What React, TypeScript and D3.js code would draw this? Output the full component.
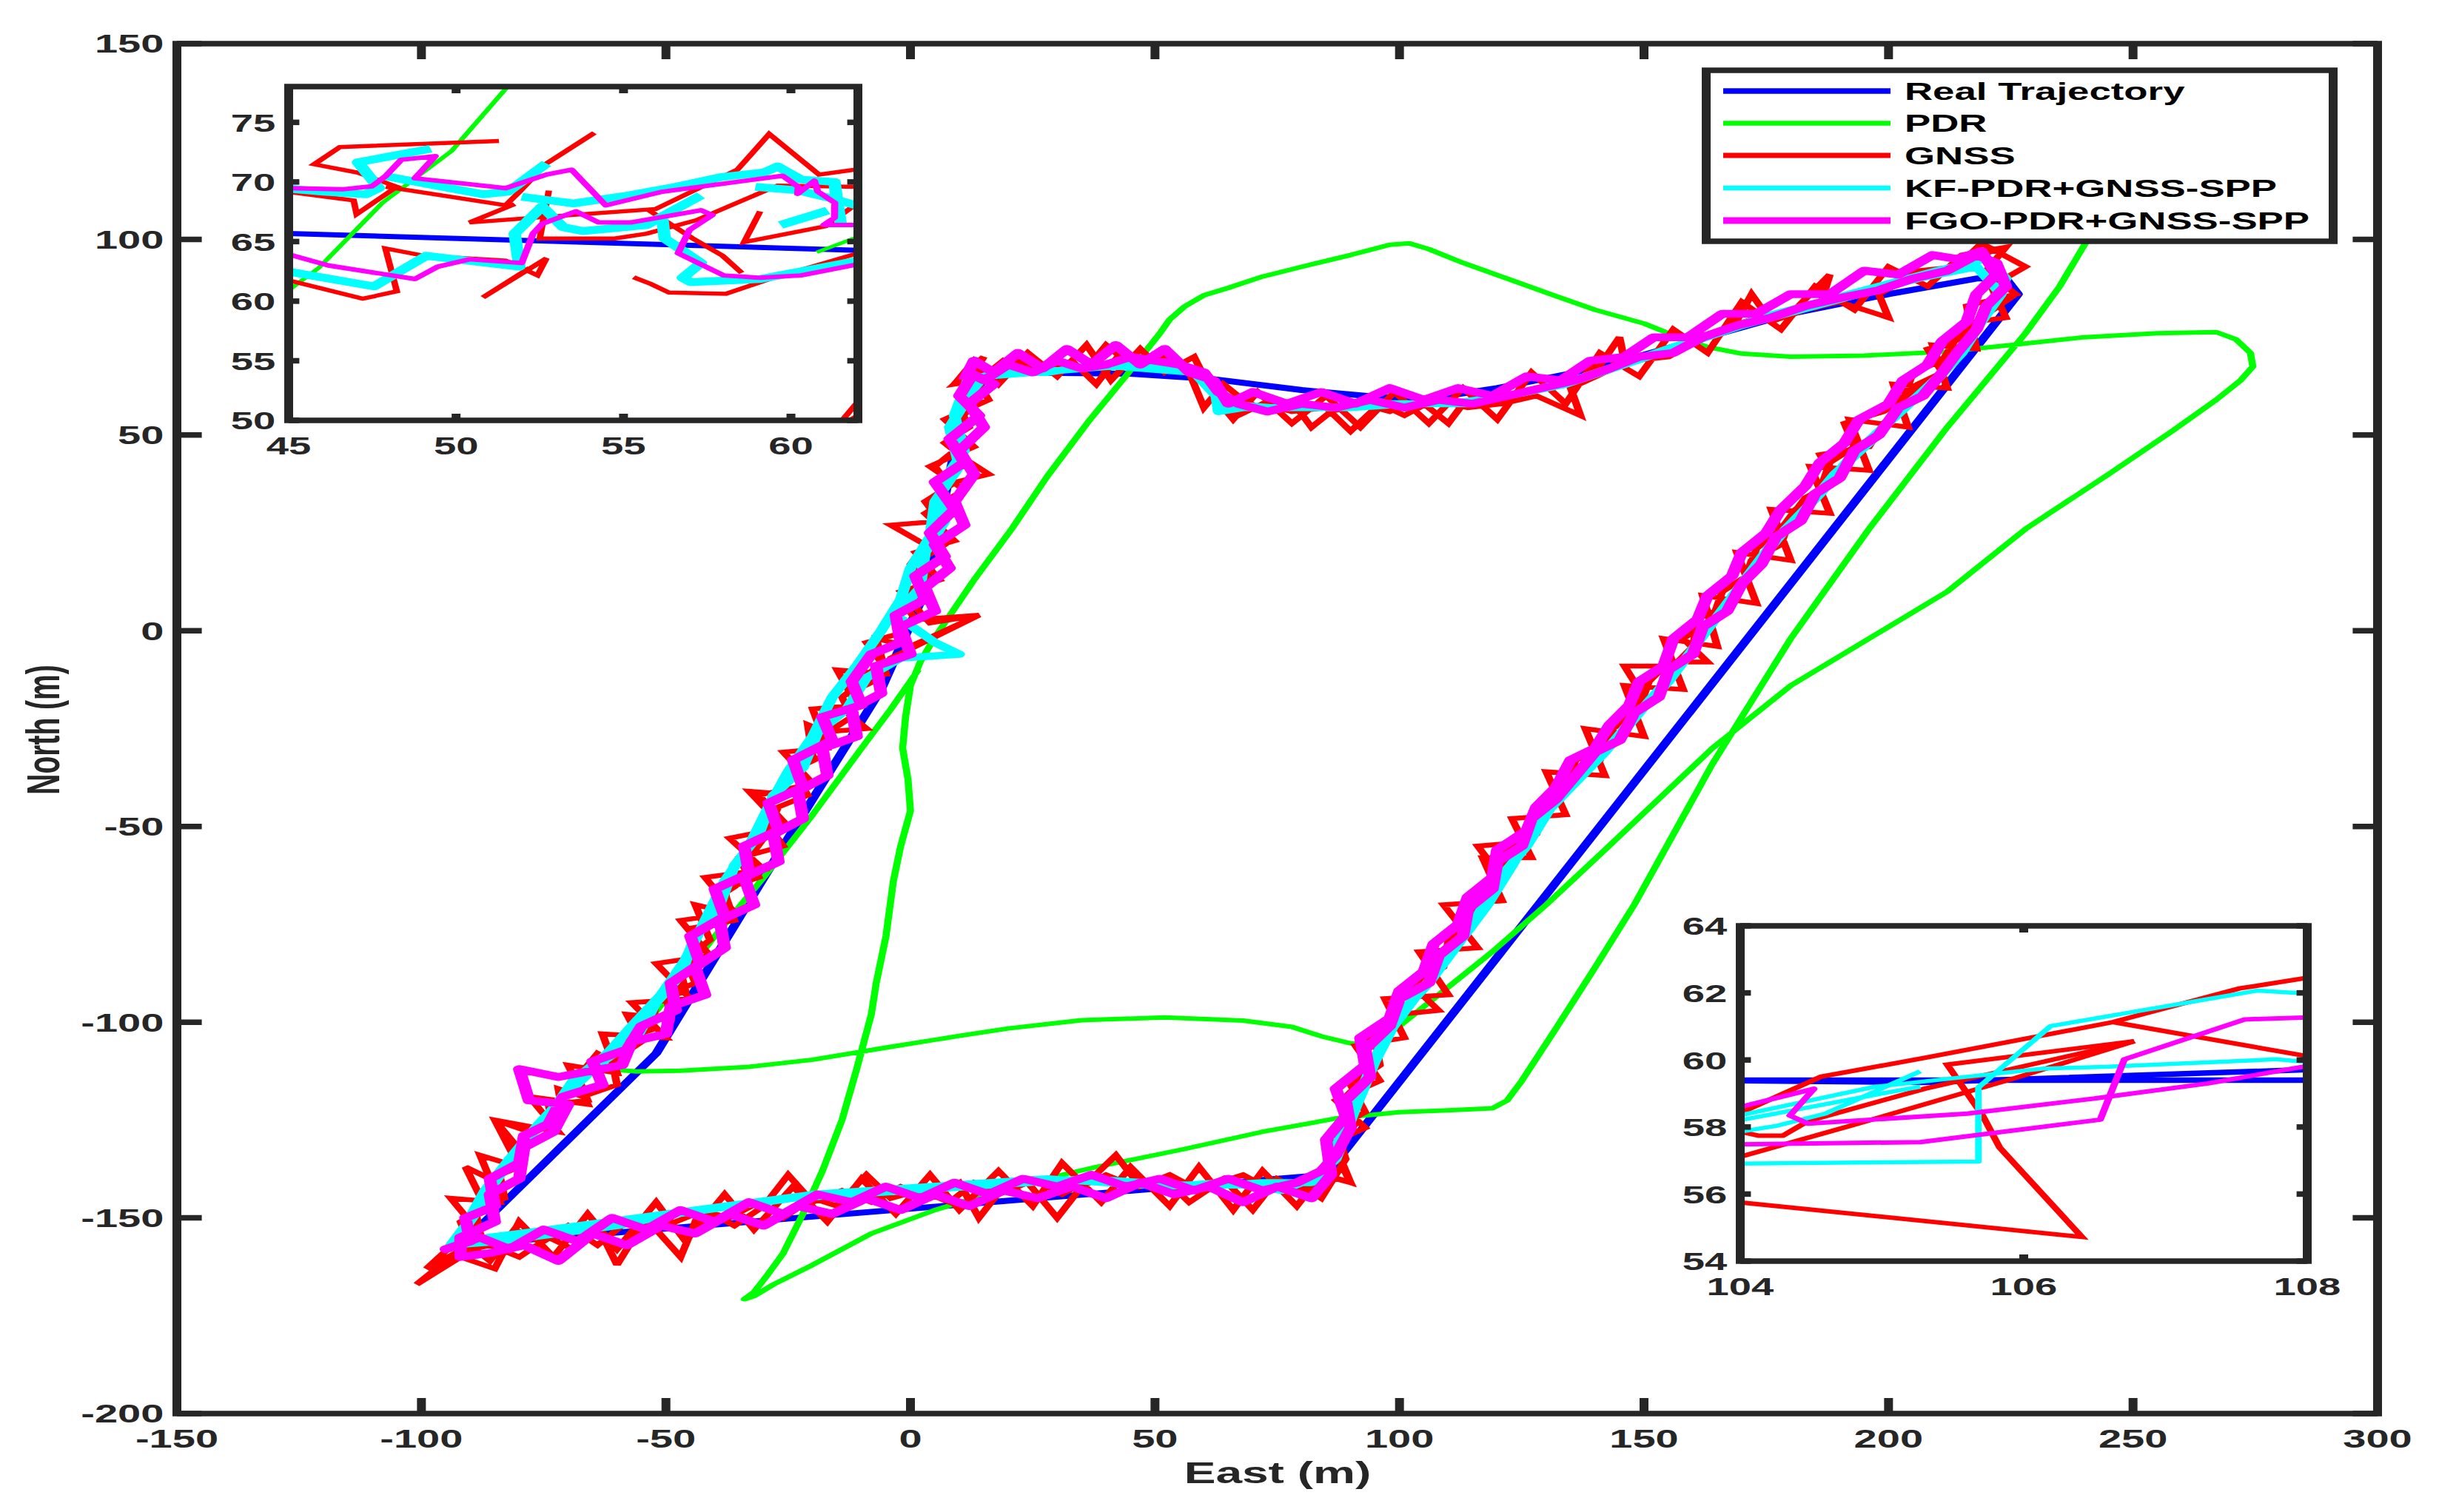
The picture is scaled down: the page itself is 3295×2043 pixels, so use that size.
import React from 'react';
import * as d3 from 'd3';

type Pt = [number, number];

// the figure was saved stretched sideways, so everything is drawn in a narrower frame and scaled up in x
const SX = 1.6;
const W = 3295;
const H = 2043;

// ---- main axes ----
const xTicksMain = [-150, -100, -50, 0, 50, 100, 150, 200, 250, 300];
const yTicksMain = [-200, -150, -100, -50, 0, 50, 100, 150];

const realTrajectory: Pt[] = [
  [20, 66], [45, 65.67], [62, 64.27], [80, 61.5], [95, 59.8], [104, 59.38], [105.3, 59.33], [108, 59.71],
  [120, 62], [140, 67], [160, 74], [180, 81], [200, 86], [218, 90], [224, 90], [226.5, 86],
  [85, -139], [-92, -157], [-52, -108], [-27, -57], [-6, -15], [3, 10], [8, 40], [12, 62], [20, 66],
];

const pdrTrack: Pt[] = [
  [1.6, -10], [-4, -20], [-10, -30], [-20, -47], [-30, -63], [-40, -78], [-48, -91], [-55, -102], [-60, -109],
  [-62, -112], [-56, -112.6], [-47, -112.4], [-33, -111.4], [-20, -109.6], [-5, -106.5], [10, -103.5], [20, -101.6],
  [35, -99.5], [52, -98.8], [68, -99.6], [78, -101.2], [84, -103.6], [90, -105.4], [95, -105.6], [100, -101],
  [110, -91], [119, -82], [130, -70], [142, -56], [153, -43], [164, -30], [180, -14], [196, -2], [212, 10],
  [228, 26], [245, 40], [258, 51], [267, 59], [272, 64], [274.5, 67.5], [274, 71], [271, 74.5], [267, 76.3],
  [255, 76], [240, 75], [225, 73], [211.5, 71.3], [195, 70.3], [180, 70], [170, 70.8], [163, 72.5], [156, 75.5],
  [150, 78.5], [140, 82], [132, 85.5], [122, 90], [113, 94], [106, 97.5], [102, 99], [98, 98.6], [90, 96],
  [80, 93], [72, 90.5], [65, 87.6], [60, 85.7], [56, 82.8], [53, 79.5], [51, 76], [44, 65], [36.6, 53.8],
  [28, 39.5], [20.7, 26], [13, 13], [7, 2], [4.8, -2], [2, -8], [0, -14], [-1, -22], [-1.6, -30], [-0.5, -38],
  [0, -46], [-2, -55], [-3.5, -64], [-5, -78], [-7, -90], [-8, -98], [-11, -112], [-14, -125], [-18, -138],
  [-22, -149], [-26, -159], [-29.5, -165], [-32, -169], [-34, -170.8], [-32, -170], [-28, -167], [-20, -162],
  [-8, -154], [5, -148], [20.7, -142], [38, -137], [55.7, -132.5], [72, -128], [87.5, -124.5], [100, -123],
  [110, -122.5], [119, -122], [122, -120], [125, -115], [132, -101.6], [140, -86], [148, -70], [156, -52],
  [164, -34], [172, -18], [180, -2], [188, 12], [196, 26], [204, 39], [212, 52], [220, 64], [228, 76],
  [235, 88], [241.5, 101.6], [246, 110],
];

const gnssLap1: Pt[] = [
  [12, 67], [16, 59], [7, 54], [13, 47], [4, 42], [11, 36], [3, 30], [9, 23], [1, 20], [6, 13], [-2, 10], [4, 2],
  [14, 4], [0, -4], [-7, -2], [-5, -11], [-15, -10], [-11, -19], [-20, -20], [-17, -30], [-26, -31], [-20, -39],
  [-31, -42], [-25, -50], [-37, -53], [-30, -61], [-42, -63], [-36, -72], [-47, -74], [-41, -83], [-52, -85],
  [-45, -94], [-57, -95], [-50, -104], [-63, -103], [-60, -113], [-70, -111], [-66, -121], [-78, -119],
  [-72, -128], [-85, -125], [-80, -137], [-88, -134], [-84, -146], [-94, -145], [-88, -154], [-101, -167],
  [-92, -160], [-85, -163], [-80, -151], [-73, -160], [-66, -149], [-60, -158], [-52, -146], [-46, -156],
  [-38, -144], [-32, -153], [-24, -142], [-17, -151], [-10, -140], [-3, -149], [4, -139], [10, -148], [18, -138],
  [25, -147], [31, -136], [39, -146], [45, -137], [53, -147], [59, -137], [66, -148], [72, -138], [79, -147],
  [84, -139], [90, -141], [86, -131], [93, -127], [87, -120], [96, -115], [91, -106], [101, -104], [97, -94],
  [110, -93], [104, -82], [116, -81], [109, -70], [121, -69], [117, -58], [127, -58], [123, -48], [134, -47],
  [130, -36], [142, -37], [138, -25], [150, -27], [146, -14], [158, -15], [154, -2], [165, -4], [162, 9],
  [173, 7], [169, 20], [180, 18], [176, 31], [188, 30], [184, 42], [196, 41], [192, 54], [204, 52], [201, 63],
  [212, 62], [209, 73], [218, 72], [216, 83], [226, 86], [220, 92], [224, 98], [215, 96], [208, 88], [200, 93],
  [193, 82], [185, 88], [178, 77], [170, 84], [163, 71], [156, 77], [149, 65], [141, 71], [134, 58], [127, 66],
  [120, 54], [113, 62], [106, 53], [99, 61], [92, 52], [85, 60], [78, 53], [71, 61], [66, 54], [62, 60],
  [58, 70], [52, 66], [47, 72], [41, 64], [36, 73], [30, 65], [24, 71], [18, 63], [13, 69], [9, 63],
];

const gnssLap2: Pt[] = [
  [12, 67], [14, 61], [10, 57], [12, 52], [7, 48], [11, 44], [16, 40], [6, 37], [9, 31], [5, 27], [7, 22], [2, 18],
  [4, 12], [0, 8], [3, 3], [14, 4], [1, -4], [-4, -7], [-6, -12], [-11, -15], [-13, -21], [-9, -25], [-19, -26],
  [-18, -32], [-23, -35], [-22, -42], [-33, -41], [-27, -49], [-30, -53], [-33, -58], [-31, -63], [-38, -66],
  [-37, -72], [-44, -70], [-41, -79], [-46, -84], [-44, -90], [-50, -93], [-49, -99], [-58, -98], [-55, -105],
  [-61, -110], [-60, -116], [-67, -119], [-72, -117], [-71, -124], [-78, -128], [-85, -125], [-79, -134],
  [-84, -139], [-83, -145], [-89, -148], [-88, -154], [-101, -167], [-93, -159], [-86, -157], [-80, -160],
  [-74, -155], [-69, -158], [-64, -152], [-60, -162], [-55, -152], [-48, -151], [-42, -148], [-36, -152],
  [-30, -147], [-25, -139], [-20, -146], [-14, -143], [-8, -146], [-2, -142], [4, -145], [10, -141], [14, -150],
  [19, -142], [25, -140], [31, -144], [37, -140], [42, -134], [47, -142], [53, -139], [59, -143], [64, -140],
  [70, -148], [75, -140], [80, -143], [85, -139], [90, -141], [87, -132], [91, -126], [89, -119], [94, -113],
  [92, -106], [99, -101], [100, -94], [104, -91], [107, -84], [111, -79], [113, -72], [118, -67], [119, -60],
  [116, -55], [126, -54], [127, -47], [131, -42], [135, -37], [141, -33], [142, -26], [148, -22], [149, -15],
  [146, -9], [156, -9], [160, -4], [161, 3], [166, 6], [170, 11], [172, 18], [178, 22], [180, 29], [183, 34],
  [189, 38], [186, 45], [196, 47], [199, 53], [203, 57], [206, 63], [211, 66], [208, 72], [216, 75], [219, 80],
  [226, 86], [220, 92], [224, 98], [216, 95], [210, 91], [204, 90], [198, 86], [200, 80], [190, 84], [183, 82],
  [176, 79], [172, 86], [168, 77], [161, 74], [155, 70], [148, 69], [142, 66], [135, 62], [137, 55], [128, 60],
  [121, 58], [114, 57], [107, 59], [101, 55], [96, 58], [90, 51], [85, 57], [78, 56], [72, 58], [67, 55],
  [62, 60], [60, 66], [54, 67], [49, 70], [44, 69], [40, 73], [36, 67], [30, 68], [24, 66], [19, 69], [14, 64],
  [9, 63],
];

const gnssLap3: Pt[] = [
  [15, 70], [11, 62], [13, 57], [8, 53], [10, 47], [5, 42], [8, 37], [3, 33], [6, 28], [-4, 27], [3, 22], [0, 17],
  [3, 12], [-2, 8], [1, 3], [-3, -1], [-9, -3], [-6, -8], [-10, -13], [-14, -17], [-12, -22], [-17, -26],
  [-21, -24], [-20, -32], [-24, -36], [-21, -42], [-27, -45], [-29, -50], [-26, -55], [-35, -58], [-33, -63],
  [-38, -67], [-36, -74], [-45, -76], [-43, -82], [-47, -87], [-46, -92], [-52, -95], [-53, -102], [-58, -104],
  [-61, -110], [-64, -108], [-68, -114], [-66, -120], [-74, -121], [-73, -128], [-79, -131], [-80, -137],
  [-86, -140], [-91, -137], [-87, -147], [-92, -151], [-90, -157], [-99, -163], [-92, -155], [-86, -161],
  [-81, -153], [-75, -156], [-70, -152], [-64, -157], [-58, -151], [-52, -153], [-47, -160], [-43, -148],
  [-37, -150], [-31, -146], [-26, -150], [-20, -145], [-15, -147], [-9, -139], [-4, -145], [2, -143], [8, -146],
  [13, -141], [18, -144], [24, -141], [30, -150], [35, -142], [40, -139], [46, -142], [52, -140], [57, -146],
  [63, -141], [68, -139], [74, -143], [79, -141], [84, -145], [89, -135], [87, -127], [93, -123], [90, -116],
  [96, -111], [95, -104], [100, -98], [108, -97], [103, -91], [109, -86], [110, -79], [115, -75], [116, -68],
  [121, -63], [122, -56], [128, -52], [130, -45], [134, -41], [136, -33], [142, -31], [144, -24], [149, -20],
  [151, -13], [155, -8], [163, -8], [158, -2], [164, 3], [166, 10], [171, 14], [173, 21], [178, 26], [181, 31],
  [186, 36], [188, 43], [193, 47], [191, 53], [199, 56], [203, 59], [205, 66], [211, 69], [214, 75], [218, 79],
  [224, 80], [221, 88], [228, 93], [219, 99], [214, 93], [206, 92], [199, 88], [192, 86], [186, 83], [188, 91],
  [180, 81], [173, 80], [166, 77], [159, 74], [152, 71], [146, 69], [145, 75], [140, 66], [133, 63], [126, 61],
  [120, 58], [113, 58], [110, 53], [104, 59], [98, 56], [92, 58], [86, 56], [82, 52], [79, 57], [73, 56],
  [68, 59], [64, 63], [60, 57], [57, 66], [52, 70], [47, 67], [43, 71], [38, 63], [33, 69], [28, 66], [22, 69],
  [17, 65], [12, 68],
];

const kfLap1: Pt[] = [
  [12, 65], [9, 55], [11, 46], [6, 37], [7, 28], [3, 20], [2, 11], [-3, 4], [5, -3], [10, -6], [-2, -7],
  [-9, -12], [-13, -20], [-19, -26], [-22, -35], [-28, -42], [-31, -52], [-36, -60], [-39, -70], [-44, -78],
  [-47, -88], [-52, -95], [-56, -104], [-64, -111], [-70, -118], [-76, -126], [-82, -135], [-87, -143],
  [-91, -152], [-94, -157], [-84, -156], [-72, -154], [-60, -152], [-48, -149], [-36, -147], [-24, -145],
  [-12, -144], [0, -143], [12, -142], [24, -141], [36, -140], [48, -141], [60, -142], [72, -141], [82, -141],
  [87, -135], [91, -122], [95, -110], [100, -98], [106, -90], [112, -80], [118, -70], [123, -60], [128, -49],
  [135, -40], [142, -31], [148, -22], [155, -13], [161, -3], [167, 7], [173, 17], [179, 26], [186, 35],
  [192, 44], [199, 52], [206, 60], [212, 67], [217, 75], [221, 83], [224, 90], [220, 95], [210, 92], [198, 88],
  [186, 84], [174, 80], [162, 75], [150, 70], [138, 65], [126, 61], [114, 58], [102, 58], [90, 57], [78, 57],
  [68, 57], [63, 56], [62, 64], [55, 67], [45, 68], [35, 67], [25, 66], [15, 65],
];

const kfLap2: Pt[] = [
  [13, 62], [8, 52], [10, 42], [5, 33], [4, 24], [0, 16], [-2, 8], [-6, 0], [-11, -9], [-16, -17], [-20, -27],
  [-25, -36], [-29, -45], [-33, -55], [-38, -64], [-42, -74], [-46, -84], [-51, -93], [-57, -101], [-62, -108],
  [-69, -115], [-74, -124], [-80, -132], [-85, -141], [-89, -149], [-93, -156], [-80, -154], [-68, -152],
  [-56, -150], [-44, -148], [-32, -146], [-20, -144], [-8, -143], [4, -142], [16, -141], [28, -140], [40, -141],
  [52, -142], [64, -141], [76, -143], [84, -139], [89, -127], [93, -115], [97, -104], [103, -94], [109, -85],
  [115, -75], [120, -64], [126, -55], [131, -45], [138, -36], [145, -27], [151, -18], [158, -8], [164, 2],
  [170, 12], [176, 22], [183, 31], [189, 40], [196, 48], [202, 56], [209, 63], [215, 71], [219, 79], [223, 86],
  [218, 93], [206, 90], [194, 86], [182, 82], [170, 78], [158, 73], [146, 68], [134, 63], [122, 60], [110, 58],
  [98, 58], [86, 57], [74, 57], [64, 58], [58, 66], [48, 67], [38, 68], [28, 66], [18, 66], [12, 64],
];

const fgoLap1: Pt[] = [
  [13, 66], [10, 60], [14, 55], [8, 49], [11, 43], [5, 38], [9, 31], [4, 25], [7, 19], [1, 14], [3, 8], [-3, 4],
  [-2, -3], [-8, -6], [-12, -13], [-10, -19], [-18, -22], [-16, -28], [-24, -33], [-22, -40], [-29, -44],
  [-27, -51], [-34, -55], [-33, -62], [-40, -66], [-38, -73], [-45, -78], [-43, -85], [-49, -90], [-48, -97],
  [-55, -101], [-58, -107], [-65, -110], [-63, -116], [-71, -119], [-74, -126], [-79, -129], [-80, -136],
  [-86, -140], [-85, -147], [-91, -150], [-90, -156], [-95, -158], [-88, -155], [-82, -158], [-75, -153],
  [-68, -156], [-61, -150], [-54, -153], [-47, -148], [-40, -151], [-33, -146], [-26, -149], [-19, -144],
  [-12, -146], [-5, -142], [2, -145], [9, -141], [16, -144], [23, -140], [30, -142], [37, -139], [44, -142],
  [51, -140], [58, -143], [65, -140], [72, -143], [79, -141], [84, -138], [87, -134], [90, -127], [89, -120],
  [94, -114], [93, -107], [98, -101], [100, -94], [106, -90], [108, -83], [113, -78], [114, -71], [119, -66],
  [120, -59], [125, -55], [127, -48], [132, -43], [136, -37], [140, -31], [145, -28], [148, -21], [153, -17],
  [155, -10], [160, -6], [162, 1], [167, 5], [170, 12], [174, 17], [177, 24], [182, 28], [185, 35], [190, 39],
  [193, 46], [198, 50], [202, 57], [207, 60], [211, 66], [214, 71], [218, 77], [220, 83], [224, 88], [222, 94],
  [218, 96], [212, 92], [205, 90], [198, 87], [190, 85], [183, 83], [176, 80], [169, 78], [162, 75], [156, 71],
  [149, 70], [143, 67], [136, 64], [129, 62], [122, 60], [115, 58], [108, 59], [101, 57], [94, 59], [87, 57],
  [80, 58], [73, 56], [67, 58], [63, 61], [60, 66], [55, 68], [50, 69], [45, 70], [40, 68], [35, 67], [30, 69],
  [25, 66], [20, 68], [15, 64], [12, 66],
];

const fgoLap2: Pt[] = [
  [17, 63], [12, 58], [15, 52], [10, 46], [13, 40], [9, 33], [11, 27], [5, 22], [8, 16], [3, 11], [5, 5], [-2, 1],
  [0, -6], [-7, -9], [-6, -16], [-12, -20], [-11, -27], [-18, -30], [-17, -37], [-23, -41], [-22, -48],
  [-28, -52], [-27, -59], [-34, -63], [-32, -70], [-39, -74], [-38, -81], [-44, -86], [-42, -93], [-49, -96],
  [-50, -103], [-57, -105], [-59, -111], [-72, -114], [-80, -112], [-78, -120], [-70, -121], [-73, -128],
  [-79, -132], [-80, -140], [-86, -144], [-85, -151], [-92, -155], [-92, -160], [-86, -159], [-79, -157],
  [-72, -161], [-65, -154], [-58, -157], [-51, -152], [-44, -154], [-37, -149], [-30, -152], [-23, -147],
  [-16, -149], [-9, -145], [-2, -148], [5, -144], [12, -147], [19, -143], [26, -145], [33, -142], [40, -145],
  [47, -141], [54, -144], [61, -142], [68, -146], [75, -142], [82, -145], [86, -139], [85, -130], [89, -124],
  [87, -117], [93, -111], [92, -104], [98, -99], [100, -92], [105, -87], [107, -80], [112, -75], [114, -68],
  [119, -63], [120, -56], [126, -51], [128, -45], [132, -40], [135, -33], [140, -30], [143, -24], [147, -19],
  [149, -13], [154, -9], [156, -2], [161, 3], [163, 9], [168, 14], [170, 20], [175, 25], [178, 31], [183, 37],
  [186, 43], [191, 48], [194, 54], [200, 58], [203, 64], [208, 68], [211, 74], [216, 79], [218, 86], [222, 91],
  [219, 97], [214, 95], [209, 96], [202, 91], [195, 92], [188, 86], [180, 86], [173, 81], [166, 81], [159, 75],
  [152, 75], [146, 70], [139, 69], [133, 64], [126, 65], [119, 60], [112, 62], [105, 59], [98, 62], [91, 58],
  [84, 61], [77, 58], [70, 61], [65, 58], [62, 64], [57, 66], [52, 72], [47, 68], [42, 73], [37, 68], [32, 72],
  [27, 67], [22, 71], [17, 66], [13, 69], [11, 64],
];

// ---- inset 1 (top left) ----
const xTicksIn1 = [45, 50, 55, 60];
const yTicksIn1 = [50, 55, 60, 65, 70, 75];
const in1Real: Pt[][] = [[[45, 65.67], [62, 64.27]]];
const in1Pdr: Pt[][] = [
  [[44.8, 60.5], [45.9, 62.8], [47.8, 68.25], [49.86, 72.58], [51.6, 78.2]],
  [[60.77, 64.1], [62.2, 65.6]],
];
const in1Gnss: Pt[][] = [
  [[45, 69.15], [46.94, 68.45], [47.03, 67.3], [48.23, 69.6], [47.07, 70.78], [45.76, 71.48], [46.53, 72.93], [51.28, 73.44]],
  [[45, 61.75], [47.21, 60.21], [48.23, 60.82], [47.89, 64.43], [49.04, 63.81], [51.48, 63.4], [52.43, 62.16], [52.7, 63.6], [50.8, 60.31], [52.2, 62.8]],
  [[47.9, 69.6], [51.48, 68.04], [51.9, 69.2], [52.7, 71.55], [54.13, 74.12]],
  [[51.75, 68.14], [50.4, 66.6], [52.84, 67.1], [55.96, 67.73], [58.4, 71.03], [59.35, 74.02], [60.84, 70.62], [62, 71.07]],
  [[52.77, 69.28], [52.5, 65.26], [54.74, 65.26], [55.7, 65.67], [57.18, 66.8], [59.6, 69.7], [62, 69.59]],
  [[55.7, 67.73], [57.07, 65.26], [57.96, 63.81], [58.53, 62.37]],
  [[55.3, 62], [55.82, 61.44], [56.36, 60.72], [58.06, 60.62], [59.48, 61.96], [62, 64.02]],
  [[59.08, 67.53], [58.6, 64.95], [61.04, 66.29], [62, 68.25]],
  [[61.5, 49.9], [62.1, 51.9]],
  [[61.7, 49.9], [62.1, 50.6]],
];
const in1Kf: Pt[][] = [
  [[45, 69.44], [46.06, 69.18], [47.3, 68.97], [47.69, 69.49], [47.07, 71.65], [49.24, 72.78]],
  [[47.82, 70.52], [50.8, 68.97], [51.55, 69.18], [52.7, 71.55]],
  [[51.96, 68.76], [53.5, 68.2], [55, 68.8], [56.4, 69.5], [57.9, 70.4], [59.2, 70.8], [59.6, 71.3], [60.3, 70.2], [61.3, 70.0], [61.4, 68.0], [61.5, 66.3]],
  [[45, 62.47], [47.55, 61.24], [49.11, 63.81], [51.89, 62.89], [51.75, 65.67], [52.57, 67.94], [53.2, 66.2], [53.79, 65.88], [55.69, 66.39], [57.31, 68.87]],
  [[56.16, 66.9], [56.23, 65.26], [57.31, 63.2], [56.77, 61.96], [57, 61.6], [59.08, 61.86], [62, 63.4]],
  [[58.94, 69.59], [60.2, 69.3], [61.1, 68.7], [62, 68.0]],
  [[59.69, 66.39], [61.1, 67.6]],
];
const in1Fgo: Pt[][] = [
  [[45, 69.48], [46.6, 69.38], [47.48, 69.63], [47.9, 70.5], [48.36, 71.86], [49.38, 72.16], [48.77, 70.31], [51.48, 69.48], [52.7, 70.62], [53.45, 71.03], [54.47, 68.04], [56.16, 69.18], [59.75, 70.52], [60.22, 69.59], [60.2, 69.0], [60.7, 70.1], [60.8, 69.2], [61.31, 68.25], [61.3, 67.0], [60.98, 66.39], [62, 66.39]],
  [[45, 63.92], [46.19, 62.99], [48.77, 61.86], [49.45, 62.89], [50.4, 63.51], [51.96, 63.2], [52.3, 65.67], [52.57, 66.49], [53.58, 67.53], [54.26, 66.6], [55.21, 66.6], [57.31, 67.63], [57.65, 67.22], [56.97, 65.98], [56.63, 64.02], [57.99, 62.16], [59.08, 61.96], [60.3, 62.16], [62, 63.09]],
];

// ---- inset 2 (bottom right) ----
const xTicksIn2 = [104, 106, 108];
const yTicksIn2 = [54, 56, 58, 60, 62, 64];
const in2Real: Pt[][] = [
  [[104, 59.38], [105.3, 59.33], [108, 59.71]],
  [[104, 59.4], [108, 59.4]],
];
const in2Gnss: Pt[][] = [
  [[104, 58.42], [104.57, 59.5], [105.3, 60.06], [106.63, 61.13], [107.52, 62.13], [108, 62.45]],
  [[106.63, 61.13], [108, 60.11]],
  [[104, 57.86], [104.13, 57.74], [104.3, 57.74], [104.48, 58.18], [105.3, 59.14], [106.78, 60.56]],
  [[104, 57.11], [104.83, 58.1], [105.94, 59.46], [106.78, 60.56]],
  [[104, 55.75], [106.41, 54.72], [105.83, 57.39], [105.71, 58.34], [105.46, 59.86], [106.78, 60.56]],
];
const in2Kf: Pt[][] = [
  [[104, 56.91], [105.68, 56.97], [105.68, 59.18], [106.19, 61.01], [107.65, 62.07], [108, 61.98]],
  [[104, 57.86], [104.25, 58.03], [104.6, 58.4], [105.27, 59.66]],
  [[104, 58.2], [104.5, 58.6], [105.0, 59.0], [105.27, 59.2]],
  [[104, 58.35], [104.95, 59.2], [105.6, 59.5], [106.13, 59.74], [106.6, 59.8], [107.78, 60.02], [108, 59.94]],
];
const in2Fgo: Pt[][] = [
  [[104, 58.6], [104.52, 59.14], [104.35, 58.34], [104.48, 58.1], [105.6, 58.4], [106.5, 58.85], [107.3, 59.3], [108, 59.82]],
  [[104, 57.48], [105.27, 57.55], [106.54, 58.22], [106.71, 60.02], [107.56, 61.21], [108, 61.27]],
];

const legendNames = ['Real Trajectory', 'PDR', 'GNSS', 'KF-PDR+GNSS-SPP', 'FGO-PDR+GNSS-SPP'];
const colors = ['#0000ff', '#00ff00', '#ff0000', '#00ffff', '#ff00ff'];

const AX = '#262626';
const FONT = '"Liberation Sans", Arial, Helvetica, sans-serif';

type Series = { color: string; width: number; data: Pt[][]; join?: string };
type Box = { l: number; r: number; t: number; b: number };

function Axes(props: {
  id: string;
  box: Box;
  xDomain: [number, number];
  yDomain: [number, number];
  xTicks: number[];
  yTicks: number[];
  tickLen: number;
  fontSize: number;
  series: Series[];
  white?: boolean;
}) {
  const { id, box, xDomain, yDomain, xTicks, yTicks, tickLen, fontSize, series } = props;
  const l = box.l / SX, r = box.r / SX;
  const x = d3.scaleLinear().domain(xDomain).range([l, r]);
  const y = d3.scaleLinear().domain(yDomain).range([box.b, box.t]);
  const line = d3.line<Pt>().x((d) => x(d[0])).y((d) => y(d[1]));
  const sw = 7.5;
  return (
    <g>
      <defs>
        <clipPath id={id}>
          <rect x={l} y={box.t} width={r - l} height={box.b - box.t} />
        </clipPath>
      </defs>
      {props.white && <rect x={l} y={box.t} width={r - l} height={box.b - box.t} fill="#fff" />}
      <g clipPath={`url(#${id})`}>
        {series.map((s, i) =>
          s.data.map((seg, j) => (
            <path key={`${i}-${j}`} d={line(seg) || ''} fill="none" stroke={s.color} strokeWidth={s.width}
              strokeLinejoin={(s.join as any) || 'round'} strokeMiterlimit={3} strokeLinecap="butt" />
          ))
        )}
      </g>
      {xTicks.map((t) => (
        <g key={`xt${t}`}>
          <line x1={x(t)} x2={x(t)} y1={box.b} y2={box.b - tickLen} stroke={AX} strokeWidth={sw} />
          <line x1={x(t)} x2={x(t)} y1={box.t} y2={box.t + tickLen} stroke={AX} strokeWidth={sw} />
          <text x={x(t)} y={box.b + 46} textAnchor="middle" fontSize={fontSize} fontWeight="bold" fill={AX} fontFamily={FONT}>{t}</text>
        </g>
      ))}
      {yTicks.map((t) => (
        <g key={`yt${t}`}>
          <line x1={l} x2={l + tickLen} y1={y(t)} y2={y(t)} stroke={AX} strokeWidth={sw} />
          <line x1={r} x2={r - tickLen} y1={y(t)} y2={y(t)} stroke={AX} strokeWidth={sw} />
          <text x={l - 11} y={y(t) + 12.5} textAnchor="end" fontSize={fontSize} fontWeight="bold" fill={AX} fontFamily={FONT}>{t}</text>
        </g>
      ))}
      <rect x={l} y={box.t} width={r - l} height={box.b - box.t} fill="none" stroke={AX} strokeWidth={sw} />
    </g>
  );
}

export default function App() {
  const mainBox: Box = { l: 239, r: 3212, t: 59, b: 1910 };
  const in1Box: Box = { l: 390, r: 1159, t: 117, b: 568 };
  const in2Box: Box = { l: 2351, r: 3117, t: 1251, b: 1704 };
  const leg: Box = { l: 2305, r: 3152, t: 95, b: 326 };

  const mainSeries: Series[] = [
    { color: colors[0], width: 8, data: [realTrajectory] },
    { color: colors[1], width: 6, data: [pdrTrack] },
    { color: colors[2], width: 6.5, data: [[...gnssLap1, ...gnssLap2, ...gnssLap3]], join: 'miter' },
    { color: colors[3], width: 9.5, data: [[...kfLap1, ...kfLap2]] },
    { color: colors[4], width: 10.5, data: [[...fgoLap1, ...fgoLap2]] },
  ];
  const in1Series: Series[] = [
    { color: colors[0], width: 7, data: in1Real },
    { color: colors[1], width: 4.5, data: in1Pdr },
    { color: colors[2], width: 5.5, data: in1Gnss, join: 'miter' },
    { color: colors[3], width: 10.5, data: in1Kf },
    { color: colors[4], width: 6, data: in1Fgo },
  ];
  const in2Series: Series[] = [
    { color: colors[0], width: 7.5, data: in2Real },
    { color: colors[2], width: 6, data: in2Gnss, join: 'miter' },
    { color: colors[3], width: 5.5, data: in2Kf },
    { color: colors[4], width: 6, data: in2Fgo },
  ];
  const legendWidths = [7.5, 6.5, 7, 6.5, 9];
  const rowY = [123, 166.5, 210, 254, 298];

  return (
    <svg width={W} height={H} style={{ position: 'absolute', left: 0, top: 0, background: '#fff' }}>
      <rect width={W} height={H} fill="#fff" />
      <g transform={`scale(${SX},1)`}>
        <Axes id="clipMain" box={mainBox} xDomain={[-150, 300]} yDomain={[-200, 150]} xTicks={xTicksMain}
          yTicks={yTicksMain} tickLen={21} fontSize={35} series={mainSeries} />
        <text x={1726 / SX} y={2004} textAnchor="middle" fontSize={40} fontWeight="bold" fill={AX} fontFamily={FONT}>East (m)</text>
        <text transform={`translate(${80 / SX},986) rotate(-90)`} textAnchor="middle" fontSize={39} fontWeight="bold" fill={AX} fontFamily={FONT}>North (m)</text>

        <Axes id="clipIn1" box={in1Box} xDomain={[45, 62]} yDomain={[50, 78]} xTicks={xTicksIn1}
          yTicks={yTicksIn1} tickLen={9} fontSize={34} series={in1Series} white />
        <Axes id="clipIn2" box={in2Box} xDomain={[104, 108]} yDomain={[54, 64]} xTicks={xTicksIn2}
          yTicks={yTicksIn2} tickLen={9} fontSize={34} series={in2Series} white />

        <rect x={leg.l / SX} y={leg.t} width={(leg.r - leg.l) / SX} height={leg.b - leg.t} fill="#fff" stroke={AX} strokeWidth={7.5} />
        {legendNames.map((name, i) => (
          <g key={name}>
            <line x1={2328 / SX} x2={2554 / SX} y1={rowY[i]} y2={rowY[i]} stroke={colors[i]} strokeWidth={legendWidths[i]} />
            <text x={2573 / SX} y={rowY[i] + 12} fontSize={33} fontWeight="bold" fill="#000" fontFamily={FONT}>{name}</text>
          </g>
        ))}
      </g>
    </svg>
  );
}
